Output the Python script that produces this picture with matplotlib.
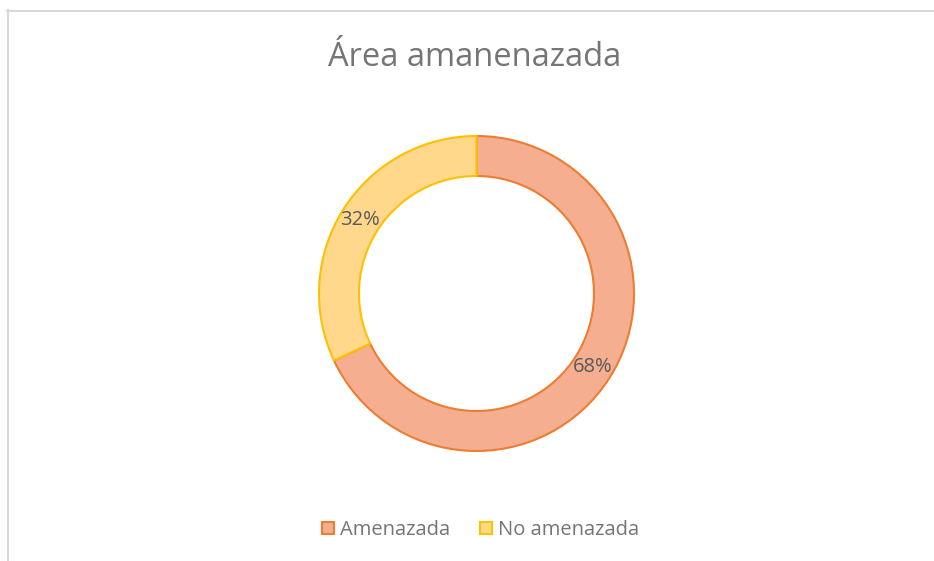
import matplotlib.pyplot as plt
from matplotlib.patches import Patch
from matplotlib.lines import Line2D

plt.rcParams['font.family'] = ['Open Sans', 'DejaVu Sans']

# Data
title = 'Área amanenazada'
categories = ['Amenazada', 'No amenazada']
values = [68, 32]

fill_colors = ['#F5AE8F', '#FFD88C']
edge_colors = ['#ED7D31', '#FFC000']

W, H = 934, 561
fig = plt.figure(figsize=(W / 100, H / 100), dpi=100)
ax = fig.add_axes([0, 0, 1, 1])
ax.axis('off')

wedges, texts, autotexts = ax.pie(
    values, startangle=90, counterclock=False,
    radius=157.5, center=(476.5, H - 293.5),
    colors=fill_colors, autopct='%1.0f%%', pctdistance=0.876,
    wedgeprops=dict(width=40, linewidth=1.5),
    textprops=dict(color='#595959', fontsize=14.5),
)
for w, ec in zip(wedges, edge_colors):
    w.set_edgecolor(ec)
ax.set_xlim(0, W)
ax.set_ylim(0, H)
ax.set_aspect('auto')

fig.text(475 / W, 1 - 57 / H, title, ha='center', va='center',
         fontsize=23.5, color='#757575')

handles = [Patch(facecolor=f, edgecolor=e, linewidth=1.5)
           for f, e in zip(fill_colors, edge_colors)]
fig.legend(handles, categories, loc='center', bbox_to_anchor=(480.5 / W, 1 - 530 / H),
           ncol=2, frameon=False, fontsize=14.5, labelcolor='#757575',
           handlelength=0.6, handleheight=0.6, handletextpad=0.3, columnspacing=1.5)

# chart border (top and left edges visible)
fig.add_artist(Line2D([7 / W, 1], [1 - 10.5 / H, 1 - 10.5 / H],
                      transform=fig.transFigure, color='#D9D9D9', lw=1.5))
fig.add_artist(Line2D([7.5 / W, 7.5 / W], [0, 1 - 10 / H],
                      transform=fig.transFigure, color='#D9D9D9', lw=1.5))

fig.savefig('out.png', dpi=100)
